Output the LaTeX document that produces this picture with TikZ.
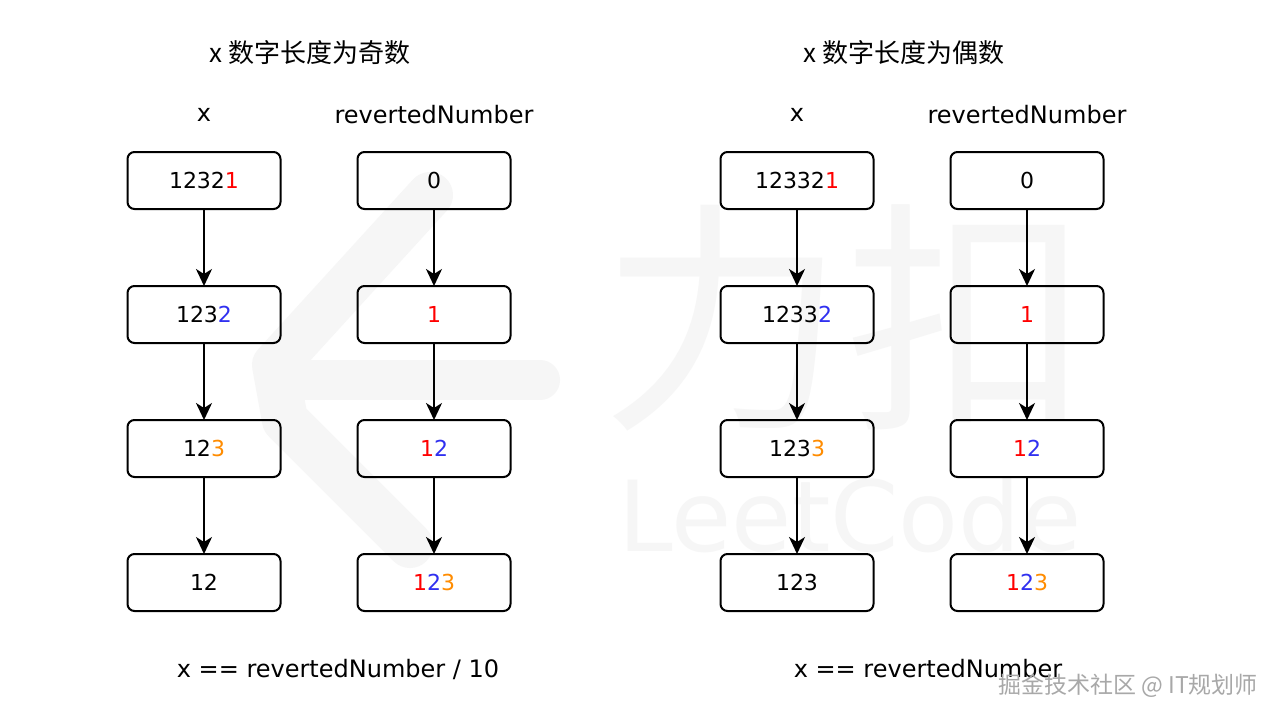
\documentclass[tikz,border=0pt]{standalone}
\usepackage{fontspec}
\setmainfont{DejaVu Sans}
\newfontfamily\cjk{Noto Sans CJK SC}
\usetikzlibrary{arrows.meta}
\definecolor{cred}{HTML}{FF0000}
\definecolor{cblue}{HTML}{3030F0}
\definecolor{corange}{HTML}{FF8C00}
\definecolor{wm}{HTML}{F6F6F6}
\definecolor{site}{HTML}{A8A8A8}
\begin{document}
\begin{tikzpicture}[x=1pt,y=-1pt,
  numbox/.style={draw, rounded corners=7pt, line width=2pt, minimum width=153pt, minimum height=57pt, inner sep=0pt, font=\fontsize{22}{26}\selectfont},
  lbl/.style={font=\fontsize{24}{28}\selectfont, inner sep=0pt},
  ttl/.style={font=\fontsize{26}{30}\selectfont\cjk, inner sep=0pt},
  flow/.style={-{Stealth[length=17pt,width=16pt,inset=5pt]}, line width=2pt, shorten >=-1pt}]
\useasboundingbox (0,0) rectangle (1280,720);
\fill[white] (0,0) rectangle (1280,720);
% watermark
\draw[wm, line width=46pt, line cap=round, line join=round] (430,195) -- (275,365) -- (285,420) -- (410,545);
\draw[wm, line width=40pt, line cap=round] (290,380) -- (540,380);
\node[wm, font=\fontsize{245}{245}\selectfont\cjk, inner sep=0pt] (wmcn) at (845,318) {力扣};
\node[wm, font=\fontsize{98}{98}\selectfont, inner sep=0pt] (wmen) at (850,515) {LeetCode};
% titles
\node[ttl] (t1) at (310,53) {x 数字长度为奇数};
\node[ttl] (t2) at (904,53) {x 数字长度为偶数};
\node[lbl] (h1) at (204,115) {x};
\node[lbl] (h2) at (434,115) {revertedNumber};
\node[lbl] (h3) at (797,115) {x};
\node[lbl] (h4) at (1027,115) {revertedNumber};
% left group
\node[numbox] (a1) at (204,180.5) {1232\textcolor{cred}{1}};
\node[numbox] (a2) at (204,314.5) {123\textcolor{cblue}{2}};
\node[numbox] (a3) at (204,448.5) {12\textcolor{corange}{3}};
\node[numbox] (a4) at (204,582.5) {12};
\node[numbox] (b1) at (434,180.5) {0};
\node[numbox] (b2) at (434,314.5) {\textcolor{cred}{1}};
\node[numbox] (b3) at (434,448.5) {\textcolor{cred}{1}\textcolor{cblue}{2}};
\node[numbox] (b4) at (434,582.5) {\textcolor{cred}{1}\textcolor{cblue}{2}\textcolor{corange}{3}};
% right group
\node[numbox] (c1) at (797,180.5) {12332\textcolor{cred}{1}};
\node[numbox] (c2) at (797,314.5) {1233\textcolor{cblue}{2}};
\node[numbox] (c3) at (797,448.5) {123\textcolor{corange}{3}};
\node[numbox] (c4) at (797,582.5) {123};
\node[numbox] (d1) at (1027,180.5) {0};
\node[numbox] (d2) at (1027,314.5) {\textcolor{cred}{1}};
\node[numbox] (d3) at (1027,448.5) {\textcolor{cred}{1}\textcolor{cblue}{2}};
\node[numbox] (d4) at (1027,582.5) {\textcolor{cred}{1}\textcolor{cblue}{2}\textcolor{corange}{3}};
\foreach \p in {a,b,c,d}{
  \draw[flow] (\p1) -- (\p2);
  \draw[flow] (\p2) -- (\p3);
  \draw[flow] (\p3) -- (\p4);
}
% bottom
\node[lbl] (f1) at (338,669) {x == revertedNumber / 10};
\node[lbl] (f2) at (928,669) {x == revertedNumber};
% site mark
\node[site, font=\fontsize{23}{26}\selectfont\cjk, inner sep=0pt, anchor=east] (sm) at (1258,686) {掘金技术社区 @ IT规划师};
\end{tikzpicture}
\end{document}
